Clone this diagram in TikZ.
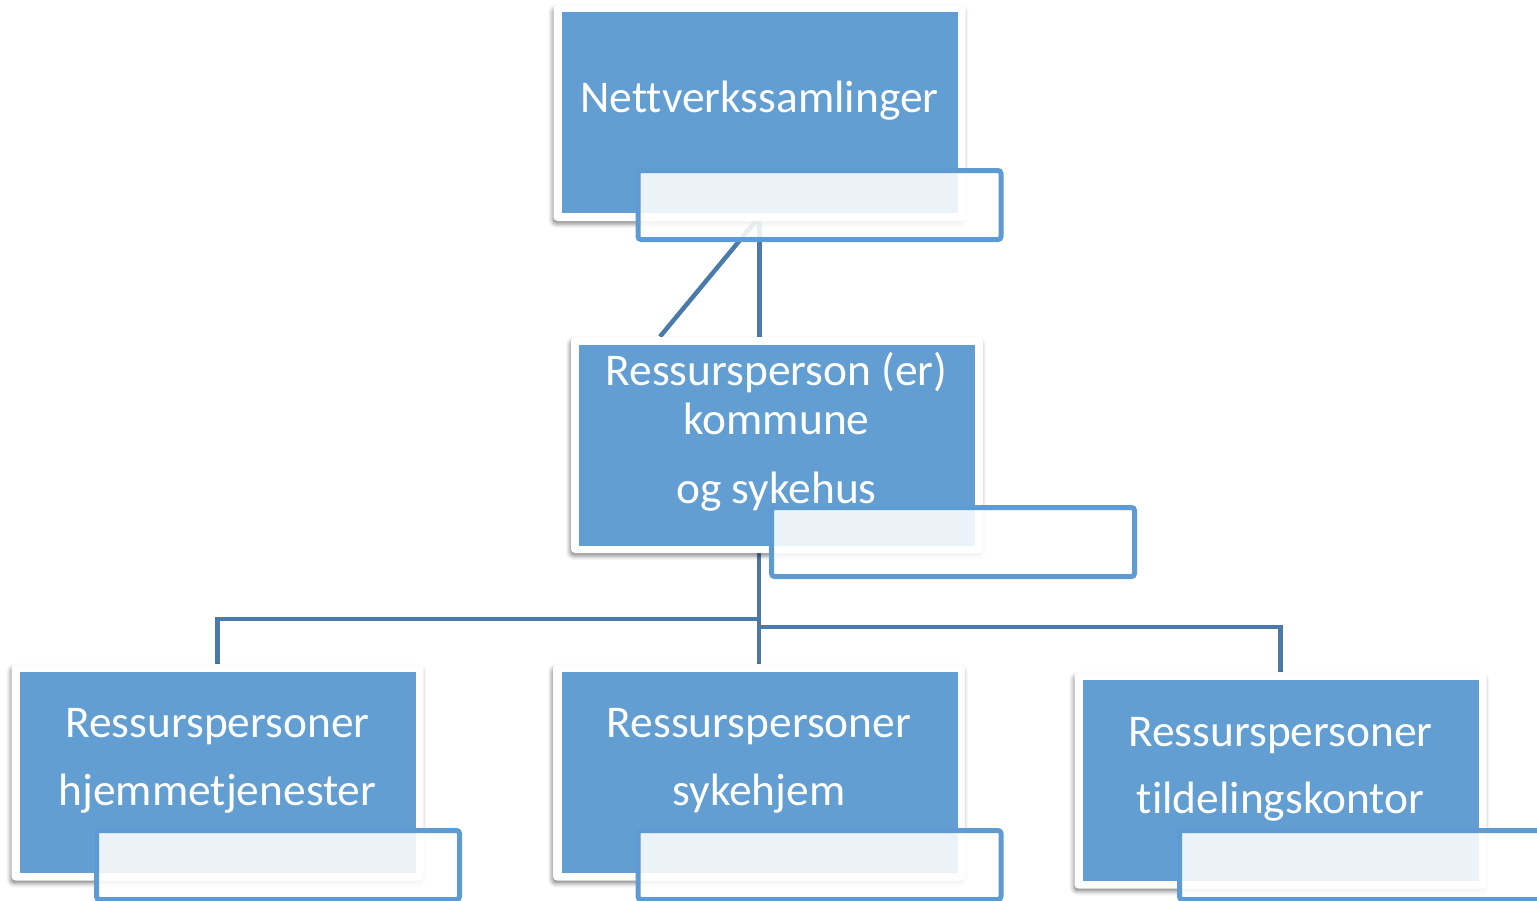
\documentclass[tikz,border=0pt]{standalone}
\usepackage{fontspec}
\setmainfont{Carlito}[Ligatures={NoCommon,NoContextual}, Contextuals=NoAlternate]
\usetikzlibrary{shadows.blur}
\pgfdeclarelayer{background}
\pgfsetlayers{background,main}
\definecolor{boxblue}{RGB}{98,158,209}
\definecolor{linkblue}{RGB}{74,122,170}
\definecolor{tagblue}{RGB}{95,155,211}
\tikzset{
 frame/.style={fill=white, rounded corners=2pt, minimum width=206pt, minimum height=108pt, inner sep=0pt,
   blur shadow={shadow xshift=-0.6pt, shadow yshift=-1.6pt, shadow blur radius=2pt, shadow opacity=45}},
 core/.style={fill=boxblue, minimum width=198pt, minimum height=100.5pt, inner sep=0pt},
 tag/.style={fill=white, fill opacity=0.88, draw=tagblue, draw opacity=1, line width=2.5pt, rounded corners=1.5pt,
   minimum width=181.5pt, minimum height=34.5pt, inner sep=0pt},
 txt/.style={text=white, font=\fontsize{22.7pt}{26pt}\selectfont, anchor=base, inner sep=0pt},
 link/.style={draw=linkblue, line width=2.25pt}
}
\begin{document}
\begin{tikzpicture}[x=0.5pt,y=-0.5pt]
\useasboundingbox (0,0) rectangle (1537,900);
% top
\node[frame] (topf) at (759.5,113) {};
\node[core] (top) at (759.5,112.5) {};
\node[txt] (toptxt) at (759.5,112) {Nettverkssamlinger};
\node[tag] (toptag) at (819.5,205) {};
% middle
\node[frame] (midf) at (777,445) {};
\node[core] (mid) at (777,445) {};
\node[txt] (midtxta) at (776.5,385) {Ressursperson (er)};
\node[txt] (midtxtb) at (776.5,434) {kommune};
\node[txt] (midtxtc) at (776.5,503) {og sykehus};
\node[tag] (midtag) at (953,542) {};
% bottom left
\node[frame] (blf) at (217.5,772.5) {};
\node[core] (bl) at (218,772.5) {};
\node[txt] (bltxta) at (217.5,737) {Ressurspersoner};
\node[txt] (bltxtb) at (217.5,805) {hjemmetjenester};
\node[tag] (bltag) at (278,865) {};
% bottom middle
\node[frame] (bmf) at (759,772.5) {};
\node[core] (bm) at (759.5,772.5) {};
\node[txt] (bmtxta) at (759,737) {Ressurspersoner};
\node[txt] (bmtxtb) at (759,805) {sykehjem};
\node[tag] (bmtag) at (819.5,865) {};
% bottom right
\node[frame] (brf) at (1280.5,780.5) {};
\node[core] (br) at (1280.5,780.5) {};
\node[txt] (brtxta) at (1280.5,746) {Ressurspersoner};
\node[txt] (brtxtb) at (1280.5,813) {tildelingskontor};
\node[tag] (brtag) at (1361,865) {};
% connectors
\begin{pgfonlayer}{background}
\draw[link] (topf.south) -- (topf.south |- midf.north);
\draw[link] ([shift={(-4,0)}]topf.south) -- ([shift={(-117,0)}]midf.north);
\coordinate (jl) at (759.5,619);
\coordinate (jr) at (759.5,627);
\draw[link] (midf.south -| bmf.north) -- (bmf.north);
\draw[link] (jl) -| (blf.north);
\draw[link] (jr) -| (brf.north);
\end{pgfonlayer}
\end{tikzpicture}
\end{document}
